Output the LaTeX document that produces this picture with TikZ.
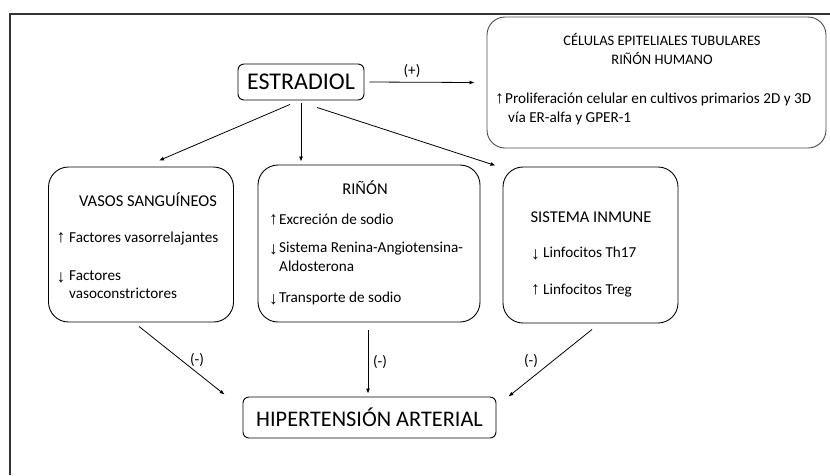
\documentclass[tikz,border=0pt]{standalone}
\usepackage{fontspec}
\setmainfont{Carlito}
\newfontfamily\arrfont{Liberation Sans}
\usetikzlibrary{arrows.meta}
\newcommand{\UpA}{{\arrfont\fontsize{17.5}{18}\selectfont ↑}}
\newcommand{\DnA}{{\arrfont\fontsize{17.5}{18}\selectfont ↓}}
\begin{document}
\begin{tikzpicture}[x=1pt,y=-1pt,
  box/.style={draw=black, line width=0.9pt, rounded corners=20pt, inner sep=0pt},
  smallbox/.style={draw=black, line width=0.9pt, rounded corners=6pt, inner sep=0pt},
  txt/.style={inner sep=0pt, anchor=base west, font=\fontsize{15.2}{18}\selectfont},
  head/.style={inner sep=0pt, anchor=base, font=\fontsize{16.5}{19}\selectfont},
  lbl/.style={inner sep=0pt, font=\fontsize{15.2}{18}\selectfont},
  conn/.style={line width=0.8pt, -{Latex[length=5pt,width=4pt]}},
]
\useasboundingbox (0,0) rectangle (830,475);
% frame lines
\draw[line width=2pt, black!80] (9.5,475) -- (9.5,13.5) -- (830,13.5);

% nodes
\node[smallbox, minimum width=126pt, minimum height=36pt, font=\fontsize{24}{28}\selectfont] (estradiol) at (301,82) {ESTRADIOL};
\node[box, draw=black!70, rounded corners=18pt, minimum width=339pt, minimum height=131pt] (celulas) at (656.5,82.5) {};
\node[head, font=\fontsize{14.5}{17}\selectfont] (celt1) at (662,45) {CÉLULAS EPITELIALES TUBULARES};
\node[head, font=\fontsize{14.5}{17}\selectfont] (celt2) at (662,64) {RIÑÓN HUMANO};
\node[txt, anchor=base east] (celar) at (504,103) {\UpA};
\node[txt] (celt3) at (505,103) {Proliferación celular en cultivos primarios 2D y 3D};
\node[txt] (celt4) at (508,122) {vía ER-alfa y GPER-1};

\node[box, minimum width=185pt, minimum height=155pt] (vasos) at (141,244.5) {};
\node[head] (vasosh) at (148,206) {VASOS SANGUÍNEOS};
\node[txt, anchor=base east] (va1) at (65.5,242) {\UpA};
\node[txt] (vt1) at (69,242) {Factores vasorrelajantes};
\node[txt, anchor=base east] (va2) at (65.5,282) {\DnA};
\node[txt] (vt2) at (69,280) {Factores};
\node[txt] (vt3) at (69,298) {vasoconstrictores};

\node[box, minimum width=222pt, minimum height=157pt] (rinon) at (369,243.5) {};
\node[head] (rinonh) at (365,194) {RIÑÓN};
\node[txt, anchor=base east] (ra1) at (278,224) {\UpA};
\node[txt] (rt1) at (279,224) {Excreción de sodio};
\node[txt, anchor=base east] (ra2) at (278,254) {\DnA};
\node[txt] (rt2) at (279,252) {Sistema Renina-Angiotensina-};
\node[txt] (rt3) at (279,271) {Aldosterona};
\node[txt, anchor=base east] (ra3) at (278,304) {\DnA};
\node[txt] (rt4) at (279,302) {Transporte de sodio};

\node[box, minimum width=175pt, minimum height=156pt] (inmune) at (590.5,245) {};
\node[head] (inmuneh) at (591,222) {SISTEMA INMUNE};
\node[txt, anchor=base east] (ia1) at (540,259) {\DnA};
\node[txt] (it1) at (543,257) {Linfocitos Th17};
\node[txt, anchor=base east] (ia2) at (540,294) {\UpA};
\node[txt] (it2) at (543,294) {Linfocitos Treg};

\node[smallbox, minimum width=253pt, minimum height=41pt, font=\fontsize{22.3}{26}\selectfont] (hyper) at (369.5,417.5) {HIPERTENSIÓN ARTERIAL};

% connectors
\draw[conn] ([xshift=5pt]estradiol.east) -- ([xshift=-12pt]celulas.west);
\node[lbl] (plus) at (412,71) {(+)};
\draw[conn] ([xshift=-11pt,yshift=-4pt]estradiol.south) -- ([xshift=18pt,yshift=6pt]vasos.north);
\draw[conn] ([yshift=-3pt]estradiol.south) -- ([xshift=-68pt,yshift=3pt]rinon.north);
\draw[conn] ([xshift=16pt,yshift=-7pt]estradiol.south) -- ([xshift=-7pt,yshift=1pt]inmune.north west);

\draw[conn] ([xshift=-2pt,yshift=-4pt]vasos.south) -- ([xshift=-18pt,yshift=2pt]hyper.north west);
\draw[conn] ([xshift=-1pt,yshift=-8pt]rinon.south) -- ([xshift=-1.5pt,yshift=3pt]hyper.north);
\draw[conn] ([xshift=1.5pt,yshift=-6pt]inmune.south) -- ([xshift=12pt,yshift=0pt]hyper.north east);
\node[lbl] (m1) at (197,360) {(-)};
\node[lbl] (m2) at (380,362) {(-)};
\node[lbl] (m3) at (531,361) {(-)};
\end{tikzpicture}
\end{document}
